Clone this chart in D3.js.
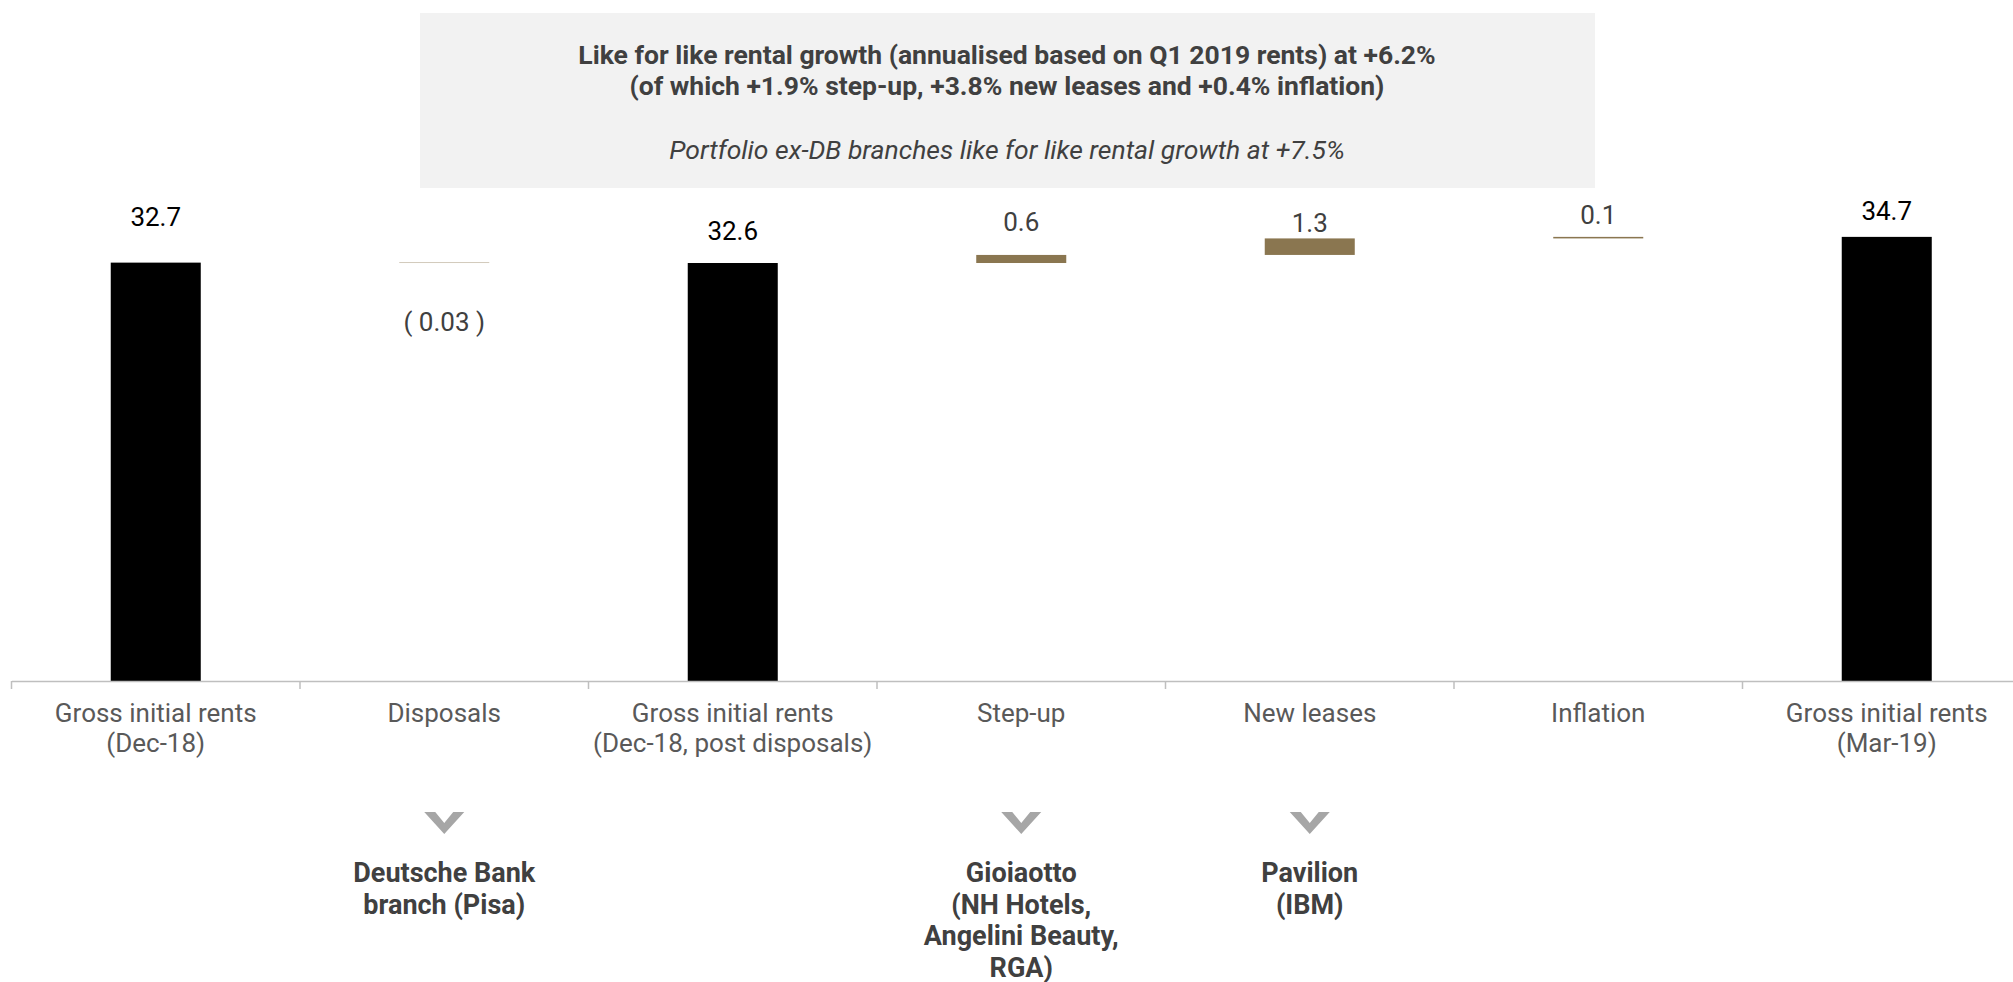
<!DOCTYPE html>
<html>
<head>
<meta charset="utf-8">
<script src="https://cdn.jsdelivr.net/npm/d3@7"></script>
<style>
  body { margin: 0; background: #fff; }
  svg { display: block; font-family: Roboto, 'Noto Sans', sans-serif; }
</style>
</head>
<body>
<div id="chart"></div>
<script>
// data (EUR m)
const categories = ['start', 'disposals', 'post', 'stepup', 'newleases', 'inflation', 'end']
const tickLabels = [
  ['Gross initial rents', '(Dec-18)'],
  ['Disposals'],
  ['Gross initial rents', '(Dec-18, post disposals)'],
  ['Step-up'],
  ['New leases'],
  ['Inflation'],
  ['Gross initial rents', '(Mar-19)']
]
const values = [32.66, -0.03, 32.63, 0.63, 1.29, 0.12, 34.67]
const kinds = ['total', 'delta', 'total', 'delta', 'delta', 'delta', 'total']
const valueLabels = ['32.7', '( 0.03 )', '32.6', '0.6', '1.3', '0.1', '34.7']
const noteCats = ['disposals', 'stepup', 'newleases']
const noteLines = [
  ['Deutsche Bank', 'branch (Pisa)'],
  ['Gioiaotto', '(NH Hotels,', 'Angelini Beauty,', 'RGA)'],
  ['Pavilion', '(IBM)']
]
const headerLines = [
  'Like for like rental growth (annualised based on Q1 2019 rents) at +6.2%',
  '(of which +1.9% step-up, +3.8% new leases and +0.4% inflation)'
]
const headerNote = 'Portfolio ex-DB branches like for like rental growth at +7.5%'

// layout: gap between bar edge and its value label (positive = above the bar)
const labelGap = [46, -59, 32, 33, 16, 22, 26]

const width = 2013
const height = 982
const baseY = 681

const svg = d3
  .select('#chart')
  .append('svg')
  .attr('width', width)
  .attr('height', height)

const x = d3
  .scaleBand()
  .domain(categories)
  .range([11.5, 2031])
  .padding(0)

const y = d3
  .scaleLinear()
  .domain([0, 40])
  .range([baseY, baseY - 40 * 12.81])

const barW = x.bandwidth() * 0.312

// waterfall steps
let running = 0
const steps = values.map((v, i) => {
  let y0, y1
  if (kinds[i] === 'total') {
    y0 = 0
    y1 = v
    running = v
  } else {
    y0 = running
    y1 = running + v
    running = y1
  }
  return { cat: categories[i], y0: y0, y1: y1, kind: kinds[i], label: valueLabels[i], gap: labelGap[i] }
})

// header box
svg
  .append('rect')
  .attr('x', 420)
  .attr('y', 13)
  .attr('width', 1175)
  .attr('height', 175)
  .attr('fill', '#f2f2f2')

svg
  .selectAll('.header')
  .data(headerLines)
  .enter()
  .append('text')
  .attr('class', 'header')
  .attr('x', 1007)
  .attr('y', (d, i) => 64 + i * 31)
  .attr('text-anchor', 'middle')
  .style('font-size', '26.5px')
  .style('font-weight', 700)
  .attr('fill', '#404040')
  .text(d => d)

svg
  .append('text')
  .attr('x', 1007)
  .attr('y', 159)
  .attr('text-anchor', 'middle')
  .style('font-size', '26.5px')
  .style('font-style', 'italic')
  .attr('fill', '#404040')
  .text(headerNote)

// bars
svg
  .selectAll('.bar')
  .data(steps)
  .enter()
  .append('rect')
  .attr('class', 'bar')
  .attr('x', d => x(d.cat) + (x.bandwidth() - barW) / 2)
  .attr('y', d => y(Math.max(d.y0, d.y1)))
  .attr('width', barW)
  .attr('height', d => Math.abs(y(d.y0) - y(d.y1)))
  .attr('fill', d => (d.kind === 'total' ? '#000000' : '#8a7650'))

// value labels
svg
  .selectAll('.value')
  .data(steps)
  .enter()
  .append('text')
  .attr('class', 'value')
  .attr('x', d => x(d.cat) + x.bandwidth() / 2)
  .attr('y', d => {
    if (d.gap >= 0) return y(Math.max(d.y0, d.y1)) - d.gap
    return y(Math.min(d.y0, d.y1)) - d.gap
  })
  .attr('dy', '0.35em')
  .attr('text-anchor', 'middle')
  .style('font-size', '26px')
  .attr('fill', d => (d.kind === 'total' ? '#000000' : '#404040'))
  .text(d => d.label)

// axis
const axis = svg
  .append('g')
  .attr('transform', 'translate(0,' + baseY + ')')
  .call(d3.axisBottom(x).tickSize(0).tickFormat(''))

axis.select('.domain').attr('stroke', '#bfbfbf').attr('stroke-width', 1.5)

svg
  .selectAll('.band-tick')
  .data(categories)
  .enter()
  .append('line')
  .attr('class', 'band-tick')
  .attr('x1', d => x(d))
  .attr('x2', d => x(d))
  .attr('y1', baseY)
  .attr('y2', baseY + 8)
  .attr('stroke', '#bfbfbf')
  .attr('stroke-width', 1.5)

const tickText = svg
  .selectAll('.tick-label')
  .data(categories)
  .enter()
  .append('text')
  .attr('class', 'tick-label')
  .attr('text-anchor', 'middle')
  .style('font-size', '26px')
  .attr('fill', '#595959')

tickText
  .selectAll('tspan')
  .data((d, i) => tickLabels[i].map(t => ({ t: t, cat: d })))
  .enter()
  .append('tspan')
  .attr('x', d => x(d.cat) + x.bandwidth() / 2)
  .attr('y', (d, j) => 722 + j * 30)
  .text(d => d.t)

// notes under the axis
const notes = svg
  .selectAll('.note')
  .data(noteCats)
  .enter()
  .append('g')
  .attr('class', 'note')
  .attr('transform', d => 'translate(' + (x(d) + x.bandwidth() / 2) + ',0)')

notes
  .append('path')
  .attr('d', 'M-20,812 L-9,812 L0,823 L9,812 L20,812 L0,834 Z')
  .attr('fill', '#a6a6a6')

notes
  .selectAll('text')
  .data((d, i) => noteLines[i])
  .enter()
  .append('text')
  .attr('x', 0)
  .attr('y', (d, j) => 882 + j * 31.5)
  .attr('text-anchor', 'middle')
  .style('font-size', '27px')
  .style('font-weight', 700)
  .attr('fill', '#404040')
  .text(d => d)
</script>
</body>
</html>
